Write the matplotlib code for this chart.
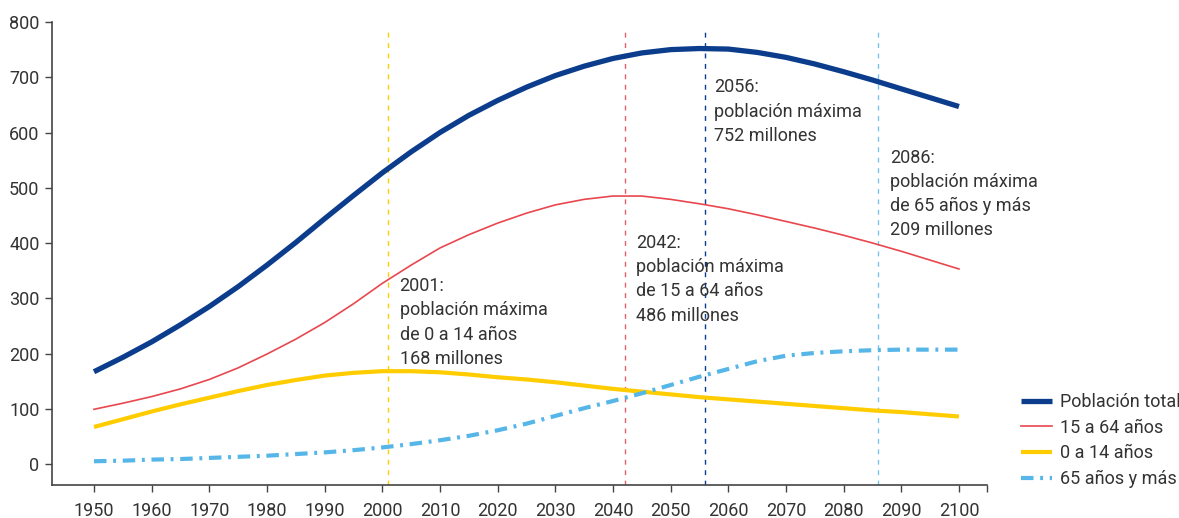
import matplotlib
matplotlib.use("Agg")
import matplotlib.pyplot as plt

years = list(range(1950, 2101, 5))
total = [167, 193, 221, 252, 285, 321, 360, 401, 444, 486, 527, 565, 600, 631, 658,
         682, 703, 720, 734, 744, 750, 752, 751, 745, 736, 724, 710, 695, 679, 663, 647]
age_15_64 = [99, 110, 122, 136, 153, 174, 199, 226, 256, 290, 327, 360, 391, 415, 436,
             454, 469, 479, 485, 485, 479, 471, 462, 451, 439, 427, 414, 400, 385, 369, 353]
age_0_14 = [67, 81, 95, 108, 120, 132, 143, 152, 160, 165, 168, 168, 166, 162, 157,
            153, 148, 142, 136, 131, 126, 121, 117, 113, 109, 105, 101, 97, 94, 90, 86]
age_65 = [5, 6, 8, 9, 11, 13, 15, 18, 21, 25, 30, 36, 43, 51, 61,
          73, 87, 101, 114, 128, 143, 158, 172, 186, 196, 201, 204, 206, 207, 207, 207]

series_labels = ["Población total", "15 a 64 años", "0 a 14 años", "65 años y más"]
peak_years = [2001, 2042, 2056, 2086]
peak_texts = [
    "2001:\npoblación máxima\nde 0 a 14 años\n168 millones",
    "2042:\npoblación máxima\nde 15 a 64 años\n486 millones",
    "2056:\npoblación máxima\n752 millones",
    "2086:\npoblación máxima\nde 65 años y más\n209 millones",
]
xticks = list(range(1950, 2101, 10))
yticks = list(range(0, 801, 100))

NAVY = "#0b3d8c"
RED = "#e8474f"
YELLOW = "#ffcc00"
BLUE = "#56b6e8"
TXT = "#333333"

plt.rcParams["font.family"] = ["Roboto", "DejaVu Sans"]

fig = plt.figure(figsize=(11.79, 5.18), dpi=100)
ax = fig.add_axes([52 / 1179, 1 - 485 / 518, (987 - 52) / 1179, (485 - 22) / 518])

ax.set_xlim(1942.72, 2104.86)
ax.set_ylim(-38, 800)

# vertical reference lines
vcols = [YELLOW, "#e0606a", NAVY, "#7cc3ea"]
for yr, c in zip(peak_years, vcols):
    ax.plot([yr, yr], [-38, 782], color=c, lw=1.0, dashes=(3.5, 4), zorder=1)

l1, = ax.plot(years, total, color=NAVY, lw=3.8, solid_capstyle="butt", zorder=5)
l2, = ax.plot(years, age_15_64, color=RED, lw=1.2, zorder=4)
l3, = ax.plot(years, age_0_14, color=YELLOW, lw=3.0, solid_capstyle="butt", zorder=3)
l4, = ax.plot(years, age_65, color=BLUE, lw=3.0, dashes=(3.0, 1.6, 0.7, 1.6), zorder=3)

# annotations
text_pos = [(2003.0, 338), (2044.0, 416), (2057.5, 698), (2088.0, 571)]
for (tx, ty), t in zip(text_pos, peak_texts):
    ax.text(tx, ty, t, ha="left", va="top", fontsize=13, color=TXT,
            linespacing=1.44, zorder=6)

for s in ["top", "right"]:
    ax.spines[s].set_visible(False)
for s in ["left", "bottom"]:
    ax.spines[s].set_color("#444444")
    ax.spines[s].set_linewidth(1.2)

ax.set_yticks(yticks)
ax.set_yticklabels([str(v) for v in yticks])
ax.set_xticks(xticks + [2104.86])
ax.set_xticklabels([str(v) for v in xticks] + [""])
ax.tick_params(axis="both", colors="#444444", labelcolor=TXT, labelsize=13,
               length=5, width=1.0)
ax.tick_params(axis="x", pad=7)
ax.tick_params(axis="y", pad=4)

leg = fig.legend([l1, l2, l3, l4], series_labels, loc="upper left",
                 bbox_to_anchor=(1021 / 1179, 1 - 393 / 518), frameon=False,
                 fontsize=13, handlelength=1.7, handletextpad=0.45,
                 labelspacing=0.42, borderaxespad=0, borderpad=0)
for t in leg.get_texts():
    t.set_color(TXT)

fig.savefig("out.png", dpi=100)
